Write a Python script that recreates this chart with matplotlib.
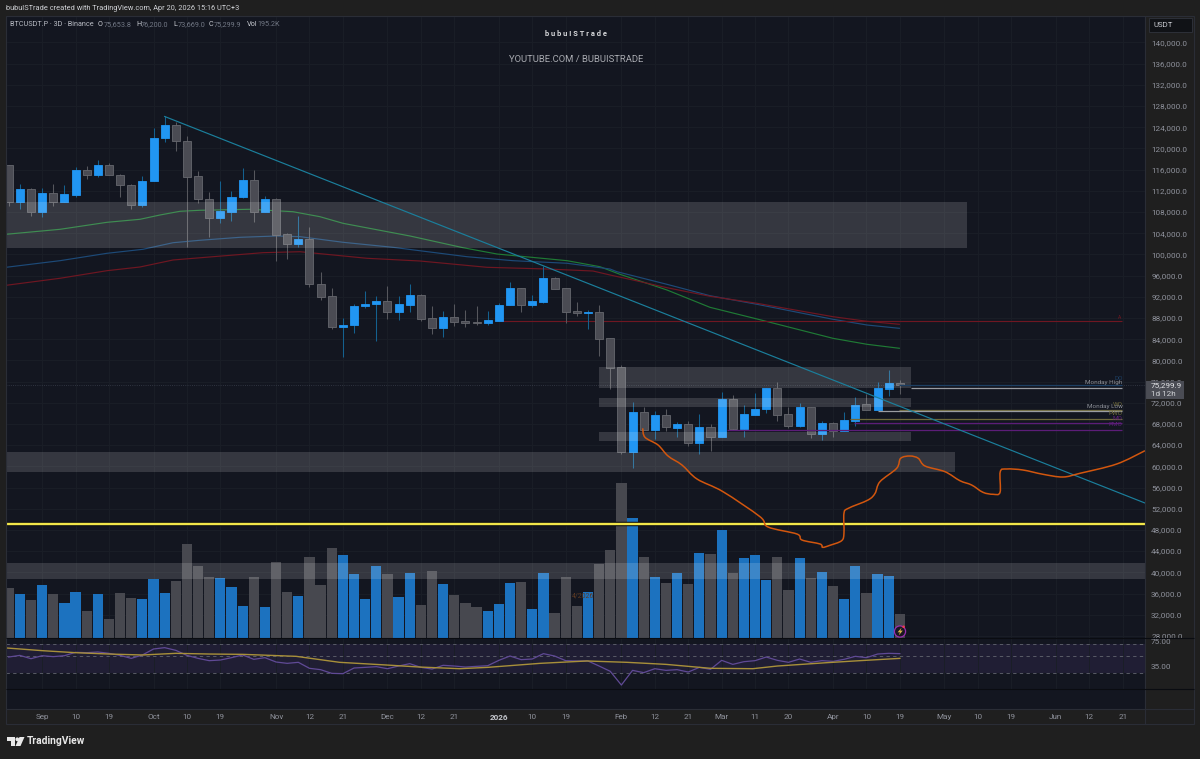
"""BTCUSDT.P 3D candles with volume, RSI, moving averages and marked zones."""

from __future__ import annotations

import matplotlib

matplotlib.use("Agg")

import matplotlib.pyplot as plt
from matplotlib.patches import Circle, PathPatch, Polygon, Rectangle
from matplotlib.path import Path

plt.rcParams["font.family"] = ["Roboto", "DejaVu Sans"]

BG = "#131620"
OUTER = "#1f1f1f"
BORDER = "#2a2d36"
SCALE_TEXT = "#8f929c"

# one row per 3D bar, index 0 is the oldest bar
opens = [
    116810, 109940, 112340, 108000, 111520, 109940, 111260, 115920, 115030, 116870,
    115030, 113090, 109370, 113790, 121960, 124470, 121450, 114730, 110510, 106920,
    108050, 110770, 113980, 108050, 110390, 103790, 102010, 102840, 94350, 92090,
    86350, 86620, 90310, 90580, 91200, 89070, 90450, 92390, 87990, 86050,
    88240, 87430, 87240, 87050, 87430, 90390, 93600, 90450, 91070, 95540,
    93600, 89310, 88940, 89070, 84160, 78690, 62760, 70260, 66920, 69690,
    67290, 67940, 64460, 67370, 65540, 72650, 67050, 69750, 70770, 74730,
    69820, 67610, 71140, 66160, 68240, 66730, 68610, 71710, 70630, 74590,
    75653.8,
]
highs = [
    116870, 113340, 112470, 112470, 113280, 113090, 116430, 116680, 117750, 117300,
    115170, 113220, 114730, 123790, 126110, 125040, 122340, 115790, 111770, 113850,
    111900, 116240, 115920, 111020, 110640, 104090, 107300, 105220, 96620, 93650,
    87990, 90640, 93030, 92150, 94090, 92150, 94410, 92520, 90260, 89370,
    90580, 89500, 90260, 89310, 90880, 94730, 93600, 92390, 97810, 95730,
    93600, 91070, 89450, 90450, 84160, 79070, 72200, 71260, 70440, 70770,
    68370, 68610, 69880, 67990, 74030, 73460, 71580, 73790, 74840, 75970,
    71260, 72010, 71140, 68560, 68430, 70200, 73090, 73600, 75920, 78180,
    76200.0,
]
lows = [
    109130, 108560, 107240, 107110, 109130, 109940, 110770, 114220, 114540, 114920,
    110830, 108510, 109000, 113790, 121260, 119510, 101450, 109750, 103340, 105980,
    106350, 110580, 106170, 108050, 98810, 99180, 101390, 93900, 91390, 85970,
    80580, 85220, 89940, 83710, 87860, 87620, 89130, 87480, 85030, 84350,
    86540, 86300, 86730, 86730, 87430, 90390, 89180, 90070, 90880, 93470,
    87110, 88430, 85920, 80880, 74540, 62270, 59750, 66920, 65100, 66730,
    65480, 63840, 62390, 62950, 65540, 66860, 65480, 69690, 70120, 68610,
    67290, 67430, 65350, 64920, 65600, 66670, 67670, 70580, 70630, 73280,
    73669.0,
]
closes = [
    109940, 112340, 108000, 111520, 109940, 111390, 115920, 115030, 116870, 114920,
    113030, 109370, 113850, 122020, 124470, 121450, 114660, 110450, 106920, 108130,
    110830, 113980, 108050, 110390, 103710, 102010, 102840, 94350, 92010, 86350,
    86670, 90310, 90690, 91200, 89130, 90580, 92390, 87860, 86050, 88180,
    87240, 87110, 87050, 87620, 90450, 93600, 90500, 91200, 95540, 93470,
    89180, 88940, 89130, 84030, 78560, 62760, 70200, 66920, 69690, 67370,
    67940, 64460, 67370, 65540, 72650, 67050, 69820, 70820, 74730, 69750,
    67610, 71140, 66160, 68240, 66730, 68750, 71630, 70580, 74730, 75670,
    75299.9,
]
volumes = [
    409, 356, 310, 428, 361, 289, 377, 225, 358, 155, 366, 324, 318, 479, 369, 463,
    762, 580, 495, 489, 414, 259, 492, 254, 618, 374, 342, 652, 428, 725, 674, 516,
    316, 583, 519, 337, 529, 273, 540, 439, 350, 289, 257, 225, 278, 447, 452, 238,
    524, 206, 497, 262, 374, 599, 709, 1249, 971, 652, 492, 449, 529, 441, 690, 677,
    874, 529, 647, 671, 471, 652, 393, 644, 484, 535, 420, 321, 586, 369, 521, 500,
    195.2,
]
volume_up = [
    False, True, False, True, False, True, True, False, True, False, False, False, True, True, True, False,
    False, False, False, True, True, True, False, True, False, False, True, False, False, False, True, True,
    True, True, False, True, True, False, False, True, False, False, False, True, True, True, False, True,
    True, False, False, False, True, False, False, False, True, False, True, False, True, False, True, False,
    True, False, True, True, True, False, False, True, False, True, False, True, True, False, True, True,
    False,
]
rsi_values = [
    50.6, 53.2, 48.0, 52.7, 51.2, 52.7, 58.0, 57.4, 58.5, 56.4, 53.2, 48.5, 53.8, 63.2, 65.3, 61.1,
    53.2, 48.5, 44.9, 45.9, 49.6, 53.8, 47.0, 49.6, 42.8, 40.7, 42.3, 32.9, 30.8, 25.0, 24.5, 33.4,
    34.4, 35.5, 32.3, 36.5, 40.2, 34.4, 31.8, 37.6, 36.5, 34.9, 36.0, 37.0, 45.4, 52.2, 46.5, 47.5,
    55.9, 52.2, 44.9, 44.4, 44.4, 36.5, 28.2, 6.7, 29.7, 26.1, 32.3, 29.7, 30.8, 27.1, 34.4, 31.3,
    45.4, 39.1, 43.3, 44.9, 50.6, 45.4, 42.3, 47.5, 42.3, 44.9, 43.8, 47.0, 51.7, 49.6, 55.3, 56.4,
    55.9,
]
rsi_ma_bars = [-0.2, 3, 6, 9, 12, 15, 18, 21, 25.8, 29.7, 33.9, 36.9, 40.5, 43, 47.7, 51.9, 55.5, 59, 63, 66.8, 69, 73.4, 76.4, 80]
rsi_ma_values = [64.8, 60.6, 57.4, 55.3, 53.8, 56.4, 55.3, 54.8, 51.7, 42.3, 38.1, 34.9, 32.3, 34.4, 40.7, 44.4, 42.3, 39.1, 32.9, 32.3, 36.5, 41.7, 44.9, 48.5]
rsi_bands = [70.6, 52.7, 26.0]

green_bars = [-0.24, 4.61, 8.82, 11.79, 13.58, 15.38, 17.17, 21.66, 25.52, 27.94, 30.01, 36.02, 40.78, 43.83, 50.12, 53.08, 54.87, 59.09, 62.95, 67.17, 73.99, 77.05, 79.95]
green_ma = [103790, 104730, 106050, 106620, 107430, 108130, 108320, 108510, 108050, 107110, 105860, 103470, 101260, 100070, 98810, 97670, 96240, 93280, 90010, 87810, 84160, 83030, 82280]
blue_bars = [-0.24, 4.61, 8.82, 12.06, 14.75, 17.17, 20.76, 24.08, 26.15, 30.01, 34.5, 41.14, 45.27, 50.12, 53.98, 54.6, 59.09, 62.95, 67.17, 73.99, 77.05, 79.95]
blue_ma = [97560, 98810, 100200, 100960, 102200, 102660, 103220, 103470, 103340, 102280, 101330, 99560, 98810, 98320, 97240, 96730, 94350, 92200, 90580, 87750, 86670, 86050]
red_bars = [-0.24, 4.61, 8.82, 11.79, 14.75, 18.34, 22.83, 26.15, 32.16, 36.92, 42.93, 48.32, 52.45, 53.98, 56.04, 59.09, 62.95, 67.17, 73.99, 77.05, 79.95]
red_ma = [94160, 95490, 96920, 97620, 98940, 99560, 100320, 100500, 99260, 98750, 97560, 97240, 96860, 96110, 95160, 93710, 92090, 90770, 88240, 87370, 86810]

projection_bars = [
    56.91, 57.12, 58.29, 59.19, 60.44, 61.79, 64.12, 67.44, 68.16, 70.76, 71.21, 72.83, 73.07, 73.72,
    74.77, 74.98, 74.98, 75.37, 77.14, 77.77, 78.21, 79.71, 80.07, 80.91, 81.65, 82.25, 84.05, 85.39,
    86.44, 87.46, 88.36, 88.99, 89.01, 89.59, 91.05, 92.85, 94.64, 96.17, 99.46, 102.0,
]
projection_prices = [
    67180, 65480, 64030, 61950, 60250, 57610, 55220, 50500, 48560, 47230, 46100, 45350, 44720, 45100,
    45970, 47420, 51140, 52080, 53650, 54910, 57100, 59630, 61520, 61950, 61520, 60070, 58990, 57290,
    56480, 55100, 54730, 55100, 58990, 59500, 59310, 58500, 57990, 58690, 60440, 62950,
]

trend_bars = [14.0, 102.0]
trend_prices = [126020, 53080]

# left bar, right bar, low, high
zones = [
    (-0.24, 86.02, 101260, 109880),
    (-0.24, 84.95, 58880, 62760),
    (52.99, 80.99, 74730, 78690),
    (52.99, 80.99, 71140, 72840),
    (52.99, 80.99, 64840, 66540),
    (-0.24, 102.03, 38680, 41700),
]

# name, first bar, price, colour, label y offset in points
level_labels = [
    ("DO", 79.95, 75350, "#1d3f63", 3.2),
    ("Monday High", 81.0, 74730, "#8b8e96", 2.4),
    ("WO", 79.95, 70620, "#6f6a3c", 2.4),
    ("Monday Low", 78.0, 70500, "#8b8e96", 1.4),
    ("PWO", 75.5, 68880, "#6f6a3c", 2.4),
    ("MO", 75.9, 68240, "#5c1d78", 1.2),
    ("PMO", 64.5, 66800, "#5c1d78", 2.4),
]

tick_bars = [3, 6, 9, 13, 16, 19, 24, 27, 30, 34, 37, 40, 44, 47, 50, 55, 58, 61, 64, 67, 70, 74, 77, 80, 84, 87, 90, 94, 97, 100]
tick_labels = [
    "Sep", "10", "19", "Oct", "10", "19", "Nov", "12", "21", "Dec", "12", "21", "2026", "10", "19",
    "Feb", "12", "21", "Mar", "11", "20", "Apr", "10", "19", "May", "10", "19", "Jun", "12", "21",
]
price_ticks = list(range(28000, 144000, 4000))


def panel(fig, top: float, bottom: float, zorder: int = 0, **kwargs):
    """Axes covering the chart width between two pixel rows."""
    rect = [6 / 1200, 1 - bottom / 759, 1139.3 / 1200, (bottom - top) / 759]
    ax = fig.add_axes(rect, zorder=zorder, **kwargs)
    ax.set_facecolor(BG)
    for spine in ax.spines.values():
        spine.set_visible(False)
    return ax


def smooth_path(xs: list[float], ys: list[float]) -> Path:
    """Catmull-Rom segments through the points, as cubic Bezier curves."""
    pts = list(zip(xs, ys))
    verts = [pts[0]]
    codes = [Path.MOVETO]
    for i in range(len(pts) - 1):
        p0 = pts[max(i - 1, 0)]
        p1, p2 = pts[i], pts[i + 1]
        p3 = pts[min(i + 2, len(pts) - 1)]
        verts.append((p1[0] + (p2[0] - p0[0]) / 6, p1[1] + (p2[1] - p0[1]) / 6))
        verts.append((p2[0] - (p3[0] - p1[0]) / 6, p2[1] - (p3[1] - p1[1]) / 6))
        verts.append(p2)
        codes += [Path.CURVE4] * 3
    return Path(verts, codes)


def draw_candles(ax) -> None:
    for i in range(len(closes)):
        up = closes[i] >= opens[i]
        body = "#2196f3" if up else "#4a4b53"
        edge = "#2196f3" if up else "#66676e"
        wick = "#14618f" if up else "#56575d"
        ax.vlines(i, lows[i], highs[i], color=wick, linewidth=0.75, zorder=3)
        ax.bar(
            i,
            abs(closes[i] - opens[i]),
            bottom=min(opens[i], closes[i]),
            width=0.72,
            color=body,
            edgecolor=edge,
            linewidth=0.6,
            zorder=4,
        )


def draw_levels(ax) -> None:
    ax.plot(trend_bars, trend_prices, color="#1b7f9c", linewidth=0.85, zorder=7)
    ax.hlines(87480, 44.3, 99.9, color="#6f1722", linewidth=0.8, zorder=2)
    ax.text(99.9, 87700, "A", color="#6f1722", fontsize=3.5, ha="right", va="bottom", zorder=2)
    for name, first_bar, price, color, offset in level_labels:
        line = "#9a9ca2" if name.startswith("Monday") else color
        ax.hlines(price, first_bar, 99.9, color=line, linewidth=0.9, zorder=6)
        ax.annotate(
            name,
            (100.0, price),
            xytext=(0, offset),
            textcoords="offset points",
            color=color,
            fontsize=4.6,
            ha="right",
            va="bottom",
            zorder=8,
        )
    ax.axhline(49060, color="#0b0d12", linewidth=3.2, zorder=8)
    ax.axhline(49060, color="#f2e64a", linewidth=1.7, zorder=9)
    ax.axhline(75299.9, color="#3a3f4c", linewidth=0.6, linestyle=":", zorder=2)


def draw_frame(fig) -> None:
    """Header texts, price-scale tags and the footer logo, placed in pixel space."""
    over = fig.add_axes([0, 0, 1, 1], zorder=10)
    over.set_xlim(0, 1200)
    over.set_ylim(759, 0)
    over.axis("off")

    over.text(6, 8.2, "bubuISTrade created with TradingView.com, Apr 20, 2026 15:16 UTC+3", color="#d0d2d6", fontsize=5.3, va="center")

    over.text(10, 24.3, "BTCUSDT.P · 3D · Binance", color="#b8bbc3", fontsize=5.2, va="center")
    for x, letter, x_val, value in [
        (98, "O", 103.5, "75,653.8"),
        (136, "H", 141, "76,200.0"),
        (173, "L", 177.5, "73,669.0"),
        (209, "C", 213.5, "75,299.9"),
        (247, "Vol", 257, "195.2K"),
    ]:
        over.text(x, 24.3, letter, color="#c8cbd2", fontsize=5.2, va="center")
        over.text(x_val, 24.3, value, color="#727885", fontsize=5.2, va="center")

    over.text(576, 33.5, "b u b u I S T r a d e", color="#d6d7da", fontsize=5.4, ha="center", va="center", fontweight="bold")
    over.text(576, 59, "YOUTUBE.COM / BUBUISTRADE", color="#a9abb1", fontsize=6.8, ha="center", va="center")

    # scale column and pane separators
    over.vlines(1145.3, 16, 724, color=BORDER, linewidth=0.8)
    over.hlines([638.4, 689.3], 6, 1194, color="#0a0c11", linewidth=0.8)
    over.hlines(709.3, 6, 1194, color=BORDER, linewidth=0.8)
    over.add_patch(Rectangle((6, 15.5), 1188, 708.8, fill=False, edgecolor=BORDER, linewidth=0.8))

    over.add_patch(Rectangle((1148.5, 18), 43.5, 14, facecolor="#101216", edgecolor="#2d3038", linewidth=0.7))
    over.text(1153, 25, "USDT", color="#c8cad0", fontsize=5.6, va="center")

    over.add_patch(Rectangle((1146, 381), 38, 18.3, facecolor="#4a4c54", edgecolor="none"))
    over.text(1151, 385.6, "75,299.9", color="#e4e5e8", fontsize=5.9, va="center")
    over.text(1151, 394.2, "1d 12h", color="#d0d2d6", fontsize=5.9, va="center")

    # alert badge on the last volume bar
    over.add_patch(Circle((900, 631.5), 5.6, facecolor="#1a1722", edgecolor="#9a2fb0", linewidth=0.9))
    over.add_patch(Polygon([(901.6, 627.6), (897.6, 632.3), (900, 632.3), (898.6, 635.6), (902.8, 630.6), (900.4, 630.6)], facecolor="#d9b24a", edgecolor="none"))
    over.add_patch(Circle((903.6, 626.8), 1.3, facecolor="#f0394f", edgecolor="none"))
    over.text(572, 596, "4/2026", color="#5e3a22", fontsize=5.0, va="center")

    # footer logo
    over.add_patch(Polygon([(7, 737), (15, 737), (15, 746), (11, 746), (11, 741), (7, 741)], facecolor="#e8e8e8", edgecolor="none"))
    over.add_patch(Circle((17.3, 739.3), 1.9, facecolor="#e8e8e8", edgecolor="none"))
    over.add_patch(Polygon([(19.5, 737), (24.5, 737), (20.5, 746), (15.5, 746)], facecolor="#e8e8e8", edgecolor="none"))
    over.text(27, 741.5, "TradingView", color="#e8e8e8", fontsize=7.4, fontweight="bold", va="center")


def main() -> None:
    fig = plt.figure(figsize=(12, 7.59), dpi=100, facecolor=OUTER)

    # grid and price scale sit at the back, then volume, then price marks
    base = panel(fig, 16, 638.6, zorder=0)
    base.set_xlim(-0.242, 102.03)
    base.set_ylim(27496, 144981)
    base.set_xticks(tick_bars)
    base.set_yticks(price_ticks)
    base.set_yticklabels([f"{p:,.1f}" for p in price_ticks])
    base.yaxis.tick_right()
    base.tick_params(axis="y", length=0, pad=4.2, labelsize=5.9, labelcolor=SCALE_TEXT)
    base.tick_params(axis="x", length=0, labelbottom=False)
    base.grid(True, color="#1a1e27", linewidth=0.7)
    base.set_axisbelow(True)

    ax_vol = panel(fig, 16, 638.6, zorder=1, sharex=base)
    ax_vol.patch.set_visible(False)
    ax_vol.set_ylim(0, 4993)
    ax_vol.bar(
        range(len(volumes)),
        volumes,
        width=0.92,
        color=["#1c72bf" if up else "#47484f" for up in volume_up],
    )
    ax_vol.axis("off")

    ax = panel(fig, 16, 638.6, zorder=2, sharex=base, sharey=base)
    ax.patch.set_visible(False)
    ax.axis("off")

    ax.plot(green_bars, green_ma, color="#1f7a35", linewidth=0.85, zorder=2)
    ax.plot(blue_bars, blue_ma, color="#1d4a78", linewidth=0.85, zorder=2)
    ax.plot(red_bars, red_ma, color="#6f1722", linewidth=0.85, zorder=2)
    draw_candles(ax)
    for left, right, low, high in zones:
        ax.fill_between([left, right], low, high, color="white", alpha=0.145, linewidth=0, zorder=5)
    draw_levels(ax)
    ax.add_patch(
        PathPatch(
            smooth_path(projection_bars, projection_prices),
            fill=False,
            edgecolor="#d2560e",
            linewidth=1.1,
            zorder=10,
        )
    )

    # RSI pane
    ax_rsi = panel(fig, 638.6, 689.3, zorder=0, sharex=base)
    ax_rsi.set_ylim(0, 79.5)
    ax_rsi.set_yticks([75, 35])
    ax_rsi.set_yticklabels(["75.00", "35.00"])
    ax_rsi.yaxis.tick_right()
    ax_rsi.tick_params(axis="y", length=0, pad=4.2, labelsize=5.9, labelcolor=SCALE_TEXT)
    ax_rsi.tick_params(axis="x", length=0, labelbottom=False)
    ax_rsi.grid(True, axis="x", color="#1a1e27", linewidth=0.7)
    ax_rsi.axhspan(rsi_bands[2], rsi_bands[0], color="#7e57c2", alpha=0.13, linewidth=0)
    for band in rsi_bands:
        ax_rsi.plot(
            [-0.242, 101.8],
            [band, band],
            color="#62656f",
            linewidth=0.6,
            linestyle=(0, (4, 4)),
        )
    ax_rsi.plot(range(len(rsi_values)), rsi_values, color="#604a96", linewidth=0.9)
    ax_rsi.plot(rsi_ma_bars, rsi_ma_values, color="#a8903a", linewidth=1.0)

    # empty pane carrying the date labels
    ax_dates = panel(fig, 689.3, 709.3, zorder=0, sharex=base)
    ax_dates.set_yticks([])
    ax_dates.set_xticks(tick_bars)
    ax_dates.set_xticklabels(tick_labels)
    ax_dates.tick_params(axis="x", length=0, pad=3.5, labelsize=5.9, labelcolor=SCALE_TEXT)
    for label in ax_dates.get_xticklabels():
        if label.get_text() == "2026":
            label.set_fontweight("bold")
            label.set_color("#c4c6cc")

    draw_frame(fig)

    fig.savefig("out.png", dpi=100, facecolor=OUTER)
    print("Saved out.png")
    plt.close(fig)


if __name__ == "__main__":
    main()
